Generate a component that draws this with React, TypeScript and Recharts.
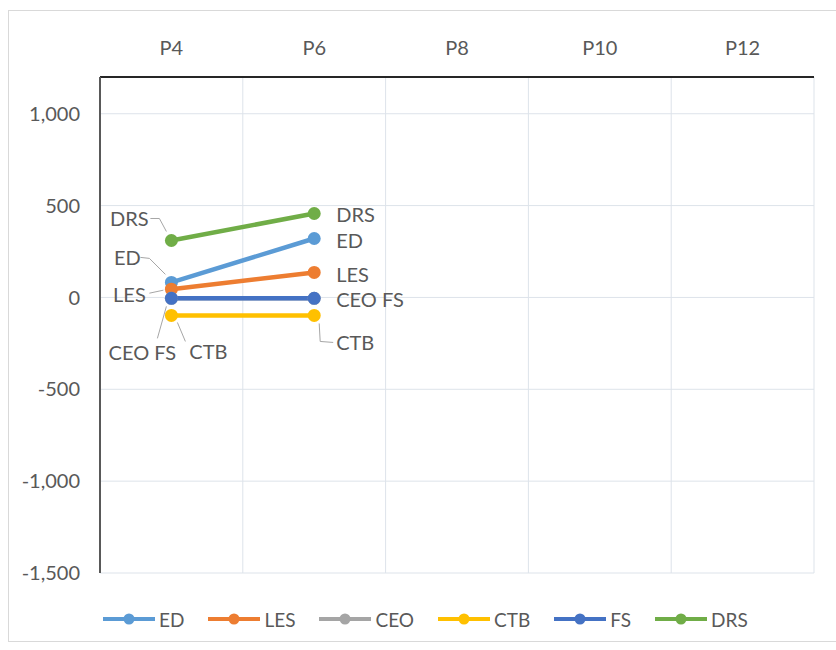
import React from "react"
import { LineChart, Line, XAxis, YAxis, CartesianGrid } from "recharts"

const categories = ["P4", "P6", "P8", "P10", "P12"]
const edValues = [82, 321, null, null, null]
const lesValues = [45, 136, null, null, null]
const ceoValues = [-5, -5, null, null, null]
const ctbValues = [-98, -98, null, null, null]
const fsValues = [-5, -5, null, null, null]
const drsValues = [310, 457, null, null, null]
const yTicks = [-1500, -1000, -500, 0, 500, 1000]

const series = [
  { key: "ED", values: edValues, color: "#5B9BD5" },
  { key: "LES", values: lesValues, color: "#ED7D31" },
  { key: "CEO", values: ceoValues, color: "#A5A5A5" },
  { key: "CTB", values: ctbValues, color: "#FFC000" },
  { key: "FS", values: fsValues, color: "#4472C4" },
  { key: "DRS", values: drsValues, color: "#70AD47" },
]

const data = categories.map((name, i) => {
  const row: Record<string, any> = { name }
  series.forEach((s) => (row[s.key] = s.values[i]))
  return row
})

const FONT = "Lato, 'Open Sans', sans-serif"
const TEXT = "#595959"

type Spot = { dx: number; dy: number; anchor: "start" | "middle" | "end"; leader?: number[][] }

// where each data label sits relative to its point (Excel moved these by hand)
const labelText: Record<string, string> = { ED: "ED", LES: "LES", CTB: "CTB", FS: "CEO FS", DRS: "DRS" }
const labelSpots: Record<string, Spot[]> = {
  DRS: [
    { dx: -42, dy: -22, anchor: "middle", leader: [[-21, -22], [-12, -22], [-5, -9]] },
    { dx: 22, dy: 1, anchor: "start" },
  ],
  ED: [
    { dx: -44, dy: -25, anchor: "middle", leader: [[-31, -25], [-22, -24], [-6, -8]] },
    { dx: 22, dy: 2, anchor: "start" },
  ],
  LES: [
    { dx: -42, dy: 5, anchor: "middle", leader: [[-22, 4], [-8, 1]] },
    { dx: 22, dy: 2, anchor: "start" },
  ],
  FS: [
    { dx: -29, dy: 54, anchor: "middle", leader: [[-14, 40], [-5, 8]] },
    { dx: 22, dy: 1, anchor: "start" },
  ],
  CTB: [
    { dx: 37, dy: 36, anchor: "middle", leader: [[14, 26], [6, 7]] },
    { dx: 22, dy: 27, anchor: "start", leader: [[5, 8], [6, 26], [19, 27]] },
  ],
}

function makeLabel(key: string) {
  return (props: any) => {
    const { x, y, index, value } = props
    const spot = labelSpots[key]?.[index]
    if (value == null || x == null || y == null || !spot) return <g />
    return (
      <g>
        {spot.leader && (
          <polyline
            points={spot.leader.map(([a, b]) => `${x + a},${y + b}`).join(" ")}
            fill="none"
            stroke="#a6a6a6"
            strokeWidth={1}
          />
        )}
        <text
          x={x + spot.dx}
          y={y + spot.dy}
          textAnchor={spot.anchor}
          dominantBaseline="central"
          fontSize={20}
          fontFamily={FONT}
          fill={TEXT}
        >
          {labelText[key]}
        </text>
      </g>
    )
  }
}

function LegendRow() {
  return (
    <div
      style={{
        position: "absolute",
        left: 103,
        top: 607,
        display: "flex",
        alignItems: "center",
        fontFamily: FONT,
        fontSize: 19,
        color: TEXT,
      }}
    >
      {series.map((s) => (
        <div key={s.key} style={{ display: "flex", alignItems: "center", marginRight: 24 }}>
          <svg width={52} height={24}>
            <line x1={0} y1={12} x2={52} y2={12} stroke={s.color} strokeWidth={4} />
            <circle cx={26} cy={12} r={5.5} fill={s.color} />
          </svg>
          <span style={{ marginLeft: 4 }}>{s.key}</span>
        </div>
      ))}
    </div>
  )
}

export default function App() {
  return (
    <div style={{ position: "absolute", left: 0, top: 0, width: 836, height: 650, background: "#fff" }}>
      <div
        style={{
          position: "absolute",
          left: 8,
          top: 10,
          width: 840,
          height: 632,
          border: "1px solid #d9d9d9",
          boxSizing: "border-box",
        }}
      />
      <LineChart
        width={836}
        height={650}
        data={data}
        margin={{ top: 20, right: 22, left: 0, bottom: 77 }}
        style={{ position: "absolute", left: 0, top: 0 }}
      >
        <CartesianGrid
          stroke="#dde3ea"
          verticalCoordinatesGenerator={({ offset }: any) =>
            [1, 2, 3, 4, 5].map((i) => offset.left + (i * offset.width) / categories.length)
          }
        />
        <XAxis
          dataKey="name"
          orientation="top"
          scale="band"
          height={57}
          axisLine={{ stroke: "#262626", strokeWidth: 2 }}
          tickLine={false}
          tickSize={0}
          tickMargin={22}
          tick={{ fontSize: 20, fill: TEXT, fontFamily: FONT }}
        />
        <YAxis
          width={100}
          domain={[-1500, 1200]}
          ticks={yTicks}
          allowDataOverflow
          axisLine={{ stroke: "#595959", strokeWidth: 2 }}
          tickLine={false}
          tickSize={0}
          tickMargin={20}
          tickFormatter={(v: number) => v.toLocaleString("en-US")}
          tick={{ fontSize: 20, fill: TEXT, fontFamily: FONT }}
        />
        {series.map((s) => (
          <Line
            key={s.key}
            dataKey={s.key}
            stroke={s.color}
            strokeWidth={4.5}
            dot={{ r: 6.5, fill: s.color, stroke: s.color, strokeWidth: 0 }}
            activeDot={false}
            isAnimationActive={false}
            label={labelSpots[s.key] ? makeLabel(s.key) : false}
          />
        ))}
      </LineChart>
      <LegendRow />
    </div>
  )
}
